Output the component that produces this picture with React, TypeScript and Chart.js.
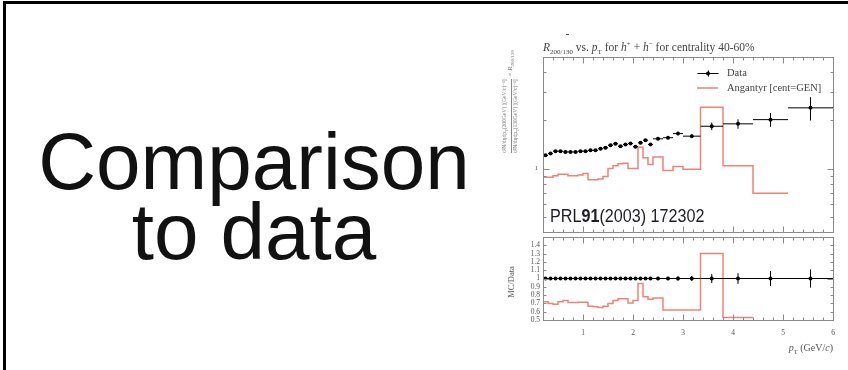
import React, { useEffect, useRef } from "react";
import { Chart, registerables } from "chart.js";

Chart.register(...registerables);

// ---- data ----
const ptCenter = [
  0.25, 0.35, 0.45, 0.55, 0.65, 0.75, 0.85, 0.95, 1.05, 1.15, 1.25, 1.35, 1.45, 1.55, 1.65,
  1.75, 1.85, 1.95, 2.05, 2.15, 2.25, 2.35, 2.5, 2.7, 2.9, 3.175, 3.575, 4.1, 4.75, 5.55,
];
const binLo = [
  0.2, 0.3, 0.4, 0.5, 0.6, 0.7, 0.8, 0.9, 1.0, 1.1, 1.2, 1.3, 1.4, 1.5, 1.6,
  1.7, 1.8, 1.9, 2.0, 2.1, 2.2, 2.3, 2.4, 2.6, 2.8, 3.0, 3.35, 3.8, 4.4, 5.1,
];
const binHi = [
  0.3, 0.4, 0.5, 0.6, 0.7, 0.8, 0.9, 1.0, 1.1, 1.2, 1.3, 1.4, 1.5, 1.6, 1.7,
  1.8, 1.9, 2.0, 2.1, 2.2, 2.3, 2.4, 2.6, 2.8, 3.0, 3.35, 3.8, 4.4, 5.1, 6.0,
];
const dataR = [
  1.21, 1.24, 1.285, 1.285, 1.27, 1.27, 1.27, 1.285, 1.285, 1.3, 1.3, 1.33, 1.35, 1.4, 1.43,
  1.38, 1.415, 1.435, 1.37, 1.45, 1.505, 1.415, 1.535, 1.56, 1.655, 1.595, 1.84, 1.905, 2.025, 2.4,
];
const dataErr = [
  0.02, 0.02, 0.02, 0.02, 0.02, 0.02, 0.02, 0.02, 0.02, 0.02, 0.02, 0.02, 0.02, 0.02, 0.02,
  0.02, 0.02, 0.02, 0.02, 0.02, 0.025, 0.025, 0.03, 0.03, 0.04, 0.04, 0.1, 0.13, 0.2, 0.4,
];
const mcR = [
  0.88, 0.88, 0.9, 0.92, 0.92, 0.9, 0.9, 0.91, 0.93, 0.85, 0.85, 0.86, 0.89, 1.0, 1.04,
  1.07, 1.08, 1.0, 1.0, 1.36, 1.17, 1.06, 1.18, 0.97, 1.03, 0.99, 2.42, 1.04, 0.7, null,
];
const dataOverData = [
  1, 1, 1, 1, 1, 1, 1, 1, 1, 1, 1, 1, 1, 1, 1,
  1, 1, 1, 1, 1, 1, 1, 1, 1, 1, 1, 1, 1, 1, 1,
];
const ratioErr = [
  0.015, 0.015, 0.015, 0.015, 0.015, 0.015, 0.015, 0.015, 0.015, 0.015, 0.015, 0.015, 0.015, 0.015, 0.015,
  0.015, 0.015, 0.015, 0.015, 0.015, 0.018, 0.018, 0.02, 0.02, 0.025, 0.03, 0.055, 0.065, 0.09, 0.11,
];
const mcOverData = [
  0.72, 0.7, 0.69, 0.72, 0.735, 0.71, 0.71, 0.715, 0.715, 0.665, 0.66, 0.65, 0.665, 0.7, 0.735,
  0.755, 0.755, 0.705, 0.735, 0.94, 0.78, 0.75, 0.765, 0.62, 0.62, 0.62, 1.3, 0.53, null, null,
];
const xMajorTicks = [1, 2, 3, 4, 5, 6];
const xMinorTicks = [0.4, 0.6, 0.8, 1.2, 1.4, 1.6, 1.8, 2.2, 2.4, 2.6, 2.8, 3.2, 3.4, 3.6, 3.8, 4.2, 4.4, 4.6, 4.8, 5.2, 5.4, 5.6, 5.8];
const upperMinorY = [0.4, 0.5, 0.6, 0.7, 0.8, 0.9, 2, 3, 4];
const upperMajorY = [1];
const ratioTicks = [0.5, 0.6, 0.7, 0.8, 0.9, 1.0, 1.1, 1.2, 1.3, 1.4];
const ratioTickLabels = ["0.5", "0.6", "0.7", "0.8", "0.9", "1", "1.1", "1.2", "1.3", "1.4"];

const RED = "#ef8378";
const FRAME = "#8a8a8a";
const SERIF = '"Liberation Serif", "DejaVu Serif", serif';

function histPoints(vals: (number | null)[]) {
  const pts: { x: number; y: number }[] = [];
  vals.forEach((v, i) => {
    if (v == null) return;
    pts.push({ x: binLo[i], y: v }, { x: binHi[i], y: v });
  });
  return pts;
}

function makePlugin(kind: "upper" | "lower") {
  return {
    id: "hepframe_" + kind,
    afterDatasetsDraw(chart: any) {
      const { ctx, chartArea: ca, scales } = chart;
      const xs = scales.x, ys = scales.y;
      const vals = kind === "upper" ? dataR : dataOverData;
      const errs = kind === "upper" ? dataErr : ratioErr;
      ctx.save();
      ctx.beginPath();
      ctx.rect(ca.left, ca.top, ca.right - ca.left, ca.bottom - ca.top);
      ctx.clip();
      ctx.strokeStyle = "#000";
      ctx.lineWidth = 1;
      ptCenter.forEach((x, i) => {
        const px = xs.getPixelForValue(x);
        const py = ys.getPixelForValue(vals[i]);
        ctx.beginPath();
        ctx.moveTo(xs.getPixelForValue(binLo[i]), py);
        ctx.lineTo(xs.getPixelForValue(binHi[i]), py);
        ctx.moveTo(px, ys.getPixelForValue(vals[i] + errs[i]));
        ctx.lineTo(px, ys.getPixelForValue(vals[i] - errs[i]));
        ctx.stroke();
      });
      ctx.restore();
    },
    afterDraw(chart: any) {
      const { ctx, chartArea: ca, scales } = chart;
      const xs = scales.x, ys = scales.y;
      ctx.save();
      ctx.strokeStyle = FRAME;
      ctx.lineWidth = 1;
      ctx.strokeRect(Math.round(ca.left) + 0.5, Math.round(ca.top) + 0.5, Math.round(ca.right - ca.left), Math.round(ca.bottom - ca.top));
      const tick = (x0: number, y0: number, x1: number, y1: number) => {
        ctx.beginPath();
        ctx.moveTo(Math.round(x0) + 0.5, Math.round(y0) + 0.5);
        ctx.lineTo(Math.round(x1) + 0.5, Math.round(y1) + 0.5);
        ctx.stroke();
      };
      xMajorTicks.forEach((v) => {
        const px = xs.getPixelForValue(v);
        tick(px, ca.bottom, px, ca.bottom - 6);
        tick(px, ca.top, px, ca.top + 6);
      });
      xMinorTicks.forEach((v) => {
        const px = xs.getPixelForValue(v);
        tick(px, ca.bottom, px, ca.bottom - 3);
        tick(px, ca.top, px, ca.top + 3);
      });
      const yMinor = kind === "upper" ? upperMinorY : ratioTicks;
      const yMajor = kind === "upper" ? upperMajorY : [1.0];
      yMinor.forEach((v) => {
        const py = ys.getPixelForValue(v);
        tick(ca.left, py, ca.left + 3, py);
        tick(ca.right, py, ca.right - 3, py);
      });
      yMajor.forEach((v) => {
        const py = ys.getPixelForValue(v);
        tick(ca.left, py, ca.left + 6, py);
        tick(ca.right, py, ca.right - 6, py);
      });
      ctx.fillStyle = "#555";
      ctx.textBaseline = "middle";
      if (kind === "upper") {
        ctx.font = "7px " + SERIF;
        ctx.textAlign = "right";
        ctx.fillText("1", ca.left - 5, ys.getPixelForValue(1));
        // legend
        const lx0 = ca.right - 136, lx1 = ca.right - 115, lm = (lx0 + lx1) / 2;
        const ly1 = ca.top + 16, ly2 = ca.top + 31;
        ctx.strokeStyle = "#000";
        ctx.lineWidth = 1;
        tick(lx0, ly1, lx1, ly1);
        tick(lm, ly1 - 3, lm, ly1 + 3);
        ctx.fillStyle = "#000";
        ctx.beginPath();
        ctx.arc(lm + 0.5, ly1 + 0.5, 2, 0, Math.PI * 2);
        ctx.fill();
        ctx.strokeStyle = RED;
        ctx.lineWidth = 1.5;
        ctx.beginPath();
        ctx.moveTo(lx0, ly2);
        ctx.lineTo(lx1, ly2);
        ctx.stroke();
        ctx.fillStyle = "#444";
        ctx.font = "10.5px " + SERIF;
        ctx.textAlign = "left";
        ctx.fillText("Data", ca.right - 106, ly1);
        ctx.fillText("Angantyr [cent=GEN]", ca.right - 106, ly2);
      } else {
        ctx.font = "7.5px " + SERIF;
        ctx.textAlign = "right";
        ratioTicks.forEach((v, i) => {
          ctx.fillText(ratioTickLabels[i], ca.left - 3, ys.getPixelForValue(v));
        });
        ctx.textAlign = "center";
        ctx.textBaseline = "top";
        xMajorTicks.forEach((v) => {
          ctx.fillText(String(v), xs.getPixelForValue(v), ca.bottom + 9);
        });
      }
      ctx.restore();
    },
  };
}

function HepChart(props: { kind: "upper" | "lower"; left: number; top: number; width: number; height: number; padding: any }) {
  const ref = useRef<HTMLCanvasElement | null>(null);
  useEffect(() => {
    if (!ref.current) return;
    const upper = props.kind === "upper";
    const datasets: any[] = [
      {
        label: "Angantyr [cent=GEN]",
        data: histPoints(upper ? mcR : mcOverData),
        showLine: true,
        borderColor: RED,
        borderWidth: 1.5,
        pointRadius: 0,
        fill: false,
        order: 2,
      },
      {
        label: "Data",
        data: ptCenter.map((x, i) => ({ x, y: upper ? dataR[i] : dataOverData[i] })),
        showLine: false,
        pointRadius: 2,
        pointBackgroundColor: "#000",
        pointBorderColor: "#000",
        pointBorderWidth: 0,
        order: 1,
      },
    ];
    const chart = new Chart(ref.current, {
      type: "scatter",
      data: { datasets },
      options: {
        animation: false,
        responsive: false,
        maintainAspectRatio: false,
        devicePixelRatio: 1,
        layout: { padding: props.padding },
        scales: {
          x: { type: "linear", min: 0.2, max: 6, display: false },
          y: upper
            ? { type: "logarithmic", min: 0.4, max: 5, display: false }
            : { type: "linear", min: 0.5, max: 1.5, display: false },
        },
        plugins: { legend: { display: false }, tooltip: { enabled: false } },
      } as any,
      plugins: [makePlugin(props.kind)],
    });
    return () => chart.destroy();
  }, []);
  return (
    <canvas
      ref={ref}
      width={props.width}
      height={props.height}
      style={{ position: "absolute", left: props.left, top: props.top, width: props.width, height: props.height }}
    />
  );
}

export default function App() {
  const sans = '"Liberation Sans", Arial, sans-serif';
  return (
    <div style={{ position: "fixed", left: 0, top: 0, width: 848, height: 370, overflow: "hidden", background: "#fff" }}>
      <div style={{ position: "absolute", left: 3, top: 1, width: 1000, height: 600, borderLeft: "3px solid #000", borderTop: "3px solid #000" }} />
      <div style={{ position: "absolute", left: 0, top: 122, width: 508, textAlign: "center", fontFamily: sans, fontSize: 80, lineHeight: "80px", color: "#111", whiteSpace: "nowrap" }}>
        Comparison
      </div>
      <div style={{ position: "absolute", left: 0, top: 192, width: 508, textAlign: "center", fontFamily: sans, fontSize: 80, lineHeight: "80px", color: "#111", whiteSpace: "nowrap" }}>
        to data
      </div>

      <HepChart kind="upper" left={480} top={30} width={368} height={206} padding={{ left: 63, top: 27, right: 15, bottom: 3 }} />
      <HepChart kind="lower" left={480} top={233} width={368} height={137} padding={{ left: 63, top: 2, right: 15, bottom: 50 }} />

      <div style={{ position: "absolute", left: 566, top: 34, width: 3, height: 1, background: "#555" }} />
      <div style={{ position: "absolute", left: 543, top: 38, fontFamily: SERIF, fontSize: 11.5, lineHeight: "13px", color: "#444", whiteSpace: "nowrap" }}>
        <i>R</i><sub style={{ fontSize: 7 }}>200/130</sub> vs. <i>p</i><sub style={{ fontSize: 7 }}>T</sub> for <i>h</i><sup style={{ fontSize: 7 }}>+</sup> + <i>h</i><sup style={{ fontSize: 7 }}>−</sup> for centrality 40-60%
      </div>
      <div
        style={{
          position: "absolute", left: 441, top: 112, width: 140, height: 16,
          transform: "rotate(-90deg)", display: "flex", alignItems: "center", justifyContent: "flex-end",
          fontFamily: SERIF, fontSize: 5.5, color: "#777", whiteSpace: "nowrap",
        }}
      >
        <div style={{ display: "inline-flex", flexDirection: "column", alignItems: "center", lineHeight: "6px" }}>
          <span style={{ borderBottom: "0.5px solid #888" }}>d²N/dηdp<sub>T</sub>(200GeV) [(GeV/c)⁻¹]</span>
          <span>d²N/dηdp<sub>T</sub>(130GeV) [(GeV/c)⁻¹]</span>
        </div>
        <span style={{ fontSize: 7, marginLeft: 3 }}>= <i>R</i><sub style={{ fontSize: 5 }}>200/130</sub></span>
      </div>
      <div
        style={{
          position: "absolute", left: 481, top: 277, width: 60, height: 10, textAlign: "center",
          transform: "rotate(-90deg)", fontFamily: SERIF, fontSize: 8.5, lineHeight: "10px", color: "#555", whiteSpace: "nowrap",
        }}
      >
        MC/Data
      </div>
      <div style={{ position: "absolute", right: 15, top: 342, fontFamily: SERIF, fontSize: 10, lineHeight: "12px", color: "#555", whiteSpace: "nowrap" }}>
        <i>p</i><sub style={{ fontSize: 6.5 }}>T</sub> (GeV/<i>c</i>)
      </div>
      <div
        style={{
          position: "absolute", left: 550, top: 206, fontFamily: sans, fontSize: 19, lineHeight: "19px",
          color: "#1c1c28", whiteSpace: "nowrap", transform: "scaleX(0.85)", transformOrigin: "left center",
        }}
      >
        PRL<b>91</b>(2003) 172302
      </div>
    </div>
  );
}
